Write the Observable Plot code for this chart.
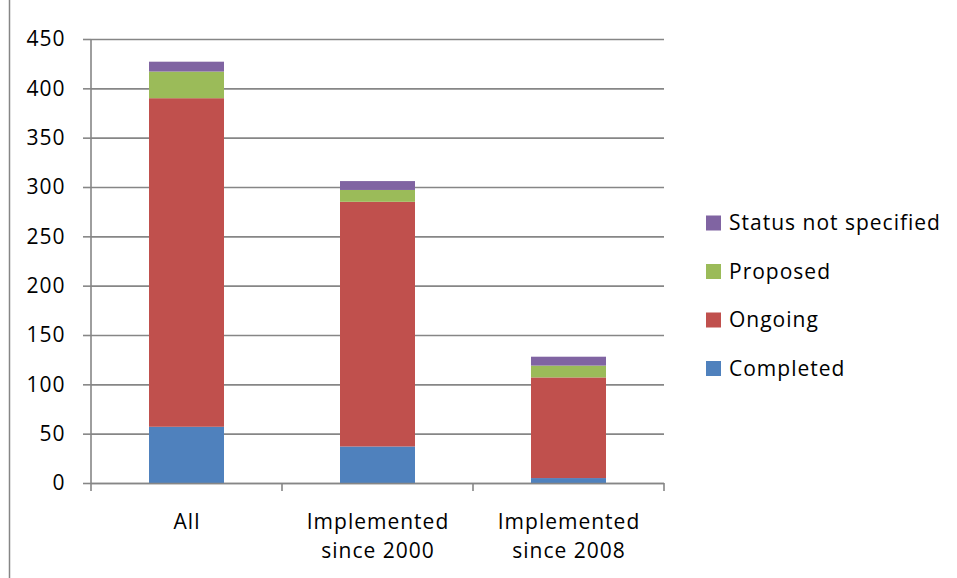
<!DOCTYPE html>
<html>
<head>
<meta charset="utf-8">
<script src="https://cdn.jsdelivr.net/npm/d3@7"></script>
<script src="https://cdn.jsdelivr.net/npm/@observablehq/plot@0.6"></script>
<style>
  html, body { margin: 0; padding: 0; background: #fff; }
  #chart { position: relative; width: 957px; height: 578px; }
  #chart svg text { letter-spacing: 1px; }
</style>
</head>
<body>
<div id="chart"></div>
<script>
// Projects by implementation status
const categories = ["All", "Implemented\nsince 2000", "Implemented\nsince 2008"];
const statuses = ["Completed", "Ongoing", "Proposed", "Status not specified"];
const completed = [57, 37, 5];
const ongoing = [333, 248, 102];
const proposed = [27, 12, 12];
const notSpecified = [10, 9, 9];
const yTicks = [0, 50, 100, 150, 200, 250, 300, 350, 400, 450];
const colors = ["#4F81BD", "#C0504D", "#9BBB59", "#8064A2"];

const seriesValues = [completed, ongoing, proposed, notSpecified];
const rows = [];
statuses.forEach((s, si) => {
  categories.forEach((c, ci) => {
    rows.push({ category: c, status: s, value: seriesValues[si][ci] });
  });
});

const gray = "#868686";
const font = "'Open Sans', sans-serif";

const chart = Plot.plot({
  width: 957,
  height: 578,
  marginLeft: 91,
  marginRight: 293,
  marginTop: 39,
  marginBottom: 95,
  style: { fontFamily: font, fontSize: "21px", color: "#000", background: "#fff" },
  x: { domain: categories, paddingInner: 0.607, paddingOuter: 0.3035, label: null },
  y: { domain: [0, 450], label: null },
  color: { domain: statuses, range: colors },
  marks: [
    Plot.gridY(yTicks, { stroke: gray, strokeOpacity: 1, strokeWidth: 1.6 }),
    Plot.barY(rows, { x: "category", y: "value", fill: "status" }),
    Plot.ruleY([0], { stroke: gray, strokeWidth: 1.6 }),
    Plot.axisY({ ticks: yTicks, tickSize: 8, tickPadding: 18, stroke: gray, strokeWidth: 1.6, fontSize: 21, label: null }),
    Plot.axisX({ tickSize: 0, tickPadding: 24, fontSize: 21, lineHeight: 1.42, label: null })
  ]
});

document.getElementById("chart").appendChild(chart);

// Axis line on the left and category boundary ticks along the bottom
const svg = d3.select(chart);
const xs = chart.scale("x");
const ys = chart.scale("y");
const y0 = ys.apply(0);
const yTop = ys.apply(450);
const centers = categories.map(c => xs.apply(c) + xs.bandwidth / 2);
const bounds = [centers[0] - xs.step / 2, ...centers.map(c => c + xs.step / 2)];

svg.append("line")
  .attr("x1", bounds[0]).attr("x2", bounds[0])
  .attr("y1", yTop).attr("y2", y0)
  .attr("stroke", gray).attr("stroke-width", 1.6);

svg.selectAll("line.bound").data(bounds).join("line")
  .attr("class", "bound")
  .attr("x1", d => d).attr("x2", d => d)
  .attr("y1", y0).attr("y2", y0 + 8)
  .attr("stroke", gray).attr("stroke-width", 1.6);

// Outer chart border on the left
svg.append("line")
  .attr("x1", 9.5).attr("x2", 9.5)
  .attr("y1", 0).attr("y2", 578)
  .attr("stroke", gray).attr("stroke-width", 1.5);

// Legend, top entry is the top of the stack
const legendItems = statuses.map((s, i) => ({ s, c: colors[i] })).reverse();
const lg = svg.append("g")
  .attr("font-family", font)
  .attr("font-size", 21)
  .attr("text-anchor", "start");
legendItems.forEach((d, i) => {
  const cy = 223 + i * 48.5;
  lg.append("rect").attr("x", 706).attr("y", cy - 7.5).attr("width", 15).attr("height", 15).attr("fill", d.c);
  lg.append("text").attr("x", 729).attr("y", cy).attr("dy", "0.35em").attr("fill", "#000").text(d.s);
});
</script>
</body>
</html>
